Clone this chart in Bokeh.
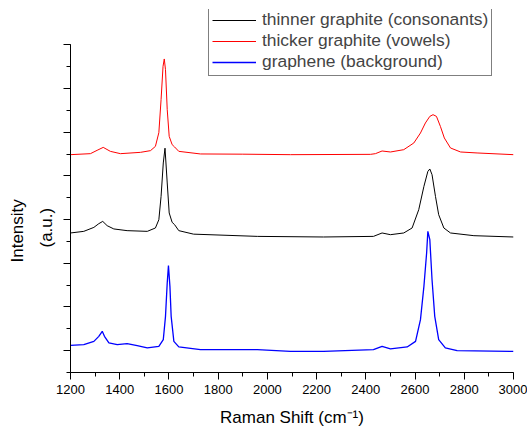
from bokeh.plotting import figure
from bokeh.models import (Range1d, SingleIntervalTicker, Legend, LegendItem, Title,
                          CustomJSTickFormatter)
from bokeh.embed import file_html
from bokeh.resources import INLINE

# ---- data ----
labels = ["thinner graphite (consonants)", "thicker graphite (vowels)", "graphene (background)"]
colors = ["#000000", "#ff0000", "#0000ff"]

shift_thinner = [1200, 1254, 1295, 1315, 1331, 1349, 1376, 1430, 1512, 1545, 1559, 1568, 1577, 1584,
                 1593, 1601, 1613, 1623, 1640, 1700, 1959, 2228, 2431, 2466, 2500, 2554, 2588, 2615,
                 2636, 2652, 2660, 2669, 2683, 2696, 2717, 2744, 2839, 3000]
intensity_thinner = [2693, 2730, 2821, 2906, 2958, 2860, 2785, 2746, 2730, 2807, 2997, 3530, 4295, 4633,
                     3837, 3151, 2936, 2883, 2746, 2666, 2615, 2601, 2615, 2693, 2654, 2693, 2807, 3226,
                     3759, 4102, 4157, 4027, 3530, 3112, 2807, 2693, 2631, 2601]

shift_thicker = [1200, 1281, 1308, 1333, 1362, 1403, 1484, 1525, 1545, 1559, 1568, 1576, 1581, 1586,
                 1593, 1601, 1613, 1623, 1640, 1728, 1900, 2094, 2419, 2439, 2466, 2500, 2554, 2595,
                 2622, 2642, 2660, 2673, 2687, 2703, 2719, 2744, 2785, 2852, 3000]
intensity_thicker = [4485, 4508, 4584, 4652, 4561, 4508, 4538, 4577, 4675, 4989, 5744, 6506, 6675, 6430,
                     5515, 4904, 4714, 4661, 4561, 4501, 4496, 4485, 4492, 4508, 4569, 4546, 4599, 4752,
                     4981, 5210, 5361, 5400, 5361, 5132, 4867, 4638, 4546, 4524, 4485]

shift_graphene = [1200, 1254, 1295, 1315, 1329, 1338, 1356, 1390, 1430, 1471, 1512, 1559, 1577, 1586,
                  1593, 1598, 1604, 1609, 1620, 1640, 1728, 1959, 2094, 2228, 2431, 2466, 2500, 2568,
                  2602, 2622, 2636, 2647, 2652, 2660, 2669, 2680, 2696, 2723, 2771, 3000]
intensity_graphene = [121, 137, 213, 327, 442, 327, 176, 137, 160, 114, 62, 98, 252, 785,
                      1549, 1945, 1471, 785, 213, 85, 23, 23, -16, -16, 23, 98, 39, 85,
                      213, 709, 1471, 2235, 2730, 2540, 1624, 785, 252, 62, 0, -16]

x_ticks_interval = 200
y_ticks_interval = 1000
y_title_lines = ["Intensity", "(a.u.)"]
x_title = "Raman Shift (cm⁻¹)"

FONT = "Liberation Sans"

p = figure(width=527, height=432, output_backend="svg", toolbar_location=None,
           x_range=Range1d(1200, 3000), y_range=Range1d(-500, 7807),
           min_border_left=70, min_border_right=14, min_border_top=9, min_border_bottom=60)
p.outline_line_color = None
p.grid.visible = False
p.background_fill_color = "white"

r_thin = p.line(shift_thinner, intensity_thinner, line_color=colors[0], line_width=1)
r_thick = p.line(shift_thicker, intensity_thicker, line_color=colors[1], line_width=1)
r_gr = p.line(shift_graphene, intensity_graphene, line_color=colors[2], line_width=1.3)

xa = p.xaxis[0]
xa.ticker = SingleIntervalTicker(interval=x_ticks_interval, num_minor_ticks=2)
xa.bounds = (1200, 3000)
xa.axis_label = x_title
xa.axis_label_text_font = FONT
xa.axis_label_text_font_size = "17px"
xa.axis_label_text_font_style = "normal"
xa.axis_label_standoff = 11
xa.major_label_text_font = FONT
xa.major_label_text_font_size = "13px"
xa.major_label_standoff = 5

ya = p.yaxis[0]
ya.ticker = SingleIntervalTicker(interval=y_ticks_interval, num_minor_ticks=2)
ya.bounds = (-500, 7000)
ya.formatter = CustomJSTickFormatter(code="return ''")
ya.major_label_standoff = 0

for ax in (xa, ya):
    ax.axis_line_color = "black"
    ax.axis_line_width = 1
    ax.major_tick_line_color = "black"
    ax.minor_tick_line_color = "black"
    ax.major_tick_in = 0
    ax.major_tick_out = 7
    ax.minor_tick_in = 0
    ax.minor_tick_out = 4
    ax.major_label_text_color = "black"
    ax.axis_label_text_color = "black"

# y-axis title: two lines, placed lower along the axis like the reference
for txt, off, so in zip(y_title_lines[::-1], (125, 110), (16, 0)):
    p.add_layout(Title(text=txt, align="left", offset=off, standoff=so, vertical_align="bottom",
                       text_font=FONT, text_font_size="17px", text_font_style="normal",
                       text_color="black"), "left")

legend = Legend(items=[LegendItem(label=labels[0], renderers=[r_thin]),
                       LegendItem(label=labels[1], renderers=[r_thick]),
                       LegendItem(label=labels[2], renderers=[r_gr])],
                location=(138, 296))
legend.label_text_font = FONT
legend.label_text_font_size = "17.4px"
legend.label_height = 20
legend.glyph_height = 20
legend.glyph_width = 44
legend.label_standoff = 6
legend.padding = 3
legend.spacing = 0
legend.margin = 0
legend.border_line_color = "black"
legend.border_line_width = 1
legend.background_fill_alpha = 1
p.add_layout(legend, "center")

open("out.html", "w").write(file_html(p, INLINE))
